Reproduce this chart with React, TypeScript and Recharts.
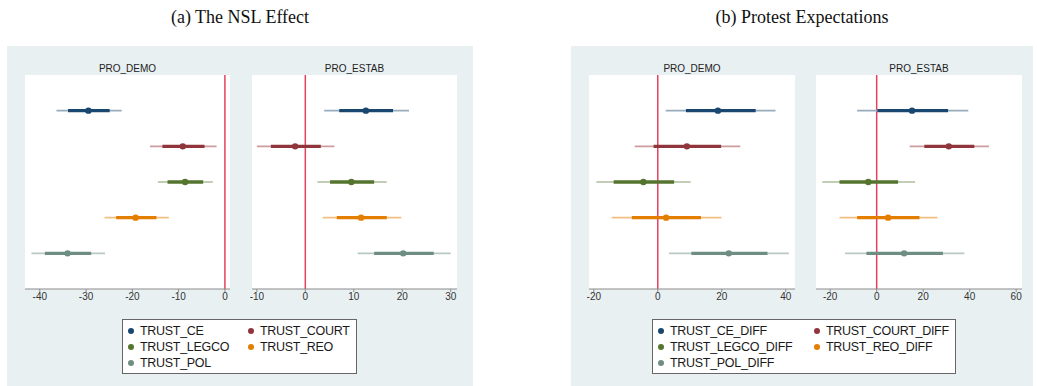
import React from 'react'
import {
  ScatterChart,
  Scatter,
  ErrorBar,
  XAxis,
  YAxis,
  CartesianGrid,
  ReferenceLine,
} from 'recharts'

// ── Data ─────────────────────────────────────────────────────────────────────

const TRUST_VARS = ['TRUST_CE', 'TRUST_COURT', 'TRUST_LEGCO', 'TRUST_REO', 'TRUST_POL']
const DIFF_VARS = TRUST_VARS.map((v) => `${v}_DIFF`)

// (a) NSL effect, PRO_DEMO
const nslDemoCoef = [-29.5, -9.1, -8.6, -19.3, -34.0]
const nslDemoInner = [[-33.9, -24.9], [-13.5, -4.4], [-12.4, -4.7], [-23.5, -14.8], [-38.9, -28.9]]
const nslDemoOuter = [[-36.4, -22.3], [-16.2, -1.8], [-14.5, -2.6], [-26.0, -12.1], [-41.8, -25.9]]

// (a) NSL effect, PRO_ESTAB
const nslEstabCoef = [12.5, -2.1, 9.5, 11.5, 20.2]
const nslEstabInner = [[7.0, 18.1], [-7.1, 3.2], [5.1, 14.2], [6.5, 16.8], [14.2, 26.5]]
const nslEstabOuter = [[3.9, 21.4], [-10.0, 6.0], [2.5, 16.8], [3.6, 19.8], [10.8, 30.0]]

// (b) protest expectations, PRO_DEMO
const protDemoCoef = [18.8, 9.1, -4.5, 2.6, 22.2]
const protDemoInner = [[8.8, 30.6], [-1.3, 19.8], [-13.8, 5.1], [-8.1, 13.5], [10.5, 34.3]]
const protDemoOuter = [[2.5, 36.8], [-7.2, 25.8], [-19.2, 10.3], [-14.4, 19.9], [3.5, 41.0]]

// (b) protest expectations, PRO_ESTAB
const protEstabCoef = [15.2, 31.0, -3.6, 4.9, 11.8]
const protEstabInner = [[0.3, 30.7], [20.5, 42.0], [-16.0, 9.2], [-8.4, 18.4], [-4.4, 28.5]]
const protEstabOuter = [[-8.4, 39.4], [14.2, 48.3], [-23.4, 16.5], [-16.0, 26.1], [-13.6, 37.7]]

const nslDemoTicks = [-40, -30, -20, -10, 0]
const nslEstabTicks = [-10, 0, 10, 20, 30]
const protDemoTicks = [-20, 0, 20, 40]
const protEstabTicks = [-20, 0, 20, 40, 60]

// ── Style ────────────────────────────────────────────────────────────────────

const COLORS = ['#1a476f', '#90353b', '#55752f', '#e37e00', '#6e8e84']
const LIGHT = ['#98abbd', '#cb9da0', '#adbd9b', '#f2bf80', '#b8c8c3']
const BG = '#e9f0f2'
const AXIS = '#8a8a8a'
const ZERO = '#e4415f'
const SANS = '"Liberation Sans", Arial, sans-serif'

const PLOT_TOP = 75
const PLOT_H = 214

// ── Helpers ──────────────────────────────────────────────────────────────────

type Row = { name: string; row: number; coef: number; inner: number[]; outer: number[] }

function buildRows(names: string[], coef: number[], inner: number[][], outer: number[][]): Row[] {
  return names.map((name, i) => ({
    name,
    row: i + 1,
    coef: coef[i],
    inner: [coef[i] - inner[i][0], inner[i][1] - coef[i]],
    outer: [coef[i] - outer[i][0], outer[i][1] - coef[i]],
  }))
}

function Subplot({
  title,
  rows,
  domain,
  ticks,
  left,
  width,
}: {
  title: string
  rows: Row[]
  domain: [number, number]
  ticks: number[]
  left: number
  width: number
}) {
  return (
    <>
      <div
        style={{
          position: 'absolute',
          left,
          top: 63,
          width,
          textAlign: 'center',
          fontSize: 10,
          lineHeight: '12px',
          color: '#222',
          fontFamily: SANS,
        }}
      >
        {title}
      </div>
      <div style={{ position: 'absolute', left: left - 2, top: PLOT_TOP }}>
        <ScatterChart width={width + 4} height={PLOT_H + 20} margin={{ top: 0, right: 2, bottom: 0, left: 2 }}>
          <CartesianGrid fill="#fff" stroke="none" horizontal={false} vertical={false} />
          <XAxis
            type="number"
            dataKey="coef"
            domain={domain}
            ticks={ticks}
            allowDataOverflow
            height={20}
            tickSize={3}
            tickMargin={1}
            stroke={AXIS}
            tick={{ fontSize: 10, fill: '#333', fontFamily: SANS }}
          />
          <YAxis
            type="number"
            dataKey="row"
            domain={[0, 6]}
            reversed
            width={0}
            tick={false}
            tickLine={false}
            axisLine={{ stroke: AXIS }}
          />
          <ReferenceLine x={0} stroke={ZERO} strokeWidth={1.5} />
          {rows.map((r, i) => (
            <Scatter
              key={r.name}
              name={r.name}
              data={[r]}
              fill={COLORS[i]}
              isAnimationActive={false}
              shape={(p: any) => <circle cx={p.cx} cy={p.cy} r={3.2} fill={COLORS[i]} />}
            >
              <ErrorBar dataKey="outer" direction="x" width={0} stroke={LIGHT[i]} strokeWidth={1.6} />
              <ErrorBar dataKey="inner" direction="x" width={0} stroke={COLORS[i]} strokeWidth={3.4} />
            </Scatter>
          ))}
        </ScatterChart>
      </div>
    </>
  )
}

function KeyBox({
  labels,
  left,
  width,
  colWidth,
}: {
  labels: string[]
  left: number
  width: number
  colWidth: number
}) {
  return (
    <div
      style={{
        position: 'absolute',
        left,
        top: 319,
        width,
        height: 55,
        boxSizing: 'border-box',
        border: '1px solid #666',
        background: '#fff',
        padding: '3px 0 0 4px',
        display: 'grid',
        gridTemplateColumns: `${colWidth}px ${colWidth}px`,
        gridAutoRows: '16px',
        fontFamily: SANS,
        fontSize: 12.5,
        letterSpacing: -0.3,
        color: '#1a1a1a',
      }}
    >
      {labels.map((label, i) => (
        <div key={label} style={{ display: 'flex', alignItems: 'center' }}>
          <span
            style={{
              width: 6,
              height: 6,
              borderRadius: 3,
              background: COLORS[i],
              marginRight: 6,
              marginLeft: 1,
            }}
          />
          {label}
        </div>
      ))}
    </div>
  )
}

// ── Component ────────────────────────────────────────────────────────────────

export default function App() {
  const nslDemo = buildRows(TRUST_VARS, nslDemoCoef, nslDemoInner, nslDemoOuter)
  const nslEstab = buildRows(TRUST_VARS, nslEstabCoef, nslEstabInner, nslEstabOuter)
  const protDemo = buildRows(DIFF_VARS, protDemoCoef, protDemoInner, protDemoOuter)
  const protEstab = buildRows(DIFF_VARS, protEstabCoef, protEstabInner, protEstabOuter)

  const heading = {
    position: 'absolute' as const,
    top: 7,
    textAlign: 'center' as const,
    fontFamily: '"Liberation Serif", "Times New Roman", serif',
    fontSize: 18,
    color: '#111',
  }

  return (
    <div style={{ position: 'absolute', left: 0, top: 0, width: 1037, height: 386, background: '#fff', overflow: 'hidden' }}>
      <div style={{ ...heading, left: 7, width: 466 }}>(a) The NSL Effect</div>
      <div style={{ ...heading, left: 571, width: 462 }}>(b) Protest Expectations</div>

      {/* (a) The NSL effect */}
      <div style={{ position: 'absolute', left: 7, top: 46, width: 466, height: 340, background: BG }} />
      <Subplot title="PRO_DEMO" rows={nslDemo} domain={[-43.2, 1.1]} ticks={nslDemoTicks} left={25} width={205} />
      <Subplot title="PRO_ESTAB" rows={nslEstab} domain={[-11.0, 31.3]} ticks={nslEstabTicks} left={252} width={205} />
      <KeyBox labels={TRUST_VARS} left={122} width={235} colWidth={120} />

      {/* (b) Protest expectations */}
      <div style={{ position: 'absolute', left: 571, top: 46, width: 462, height: 340, background: BG }} />
      <Subplot title="PRO_DEMO" rows={protDemo} domain={[-21.5, 42.9]} ticks={protDemoTicks} left={589} width={206} />
      <Subplot title="PRO_ESTAB" rows={protEstab} domain={[-26.1, 62.5]} ticks={protEstabTicks} left={816} width={206} />
      <KeyBox labels={DIFF_VARS} left={652} width={304} colWidth={156} />
    </div>
  )
}
